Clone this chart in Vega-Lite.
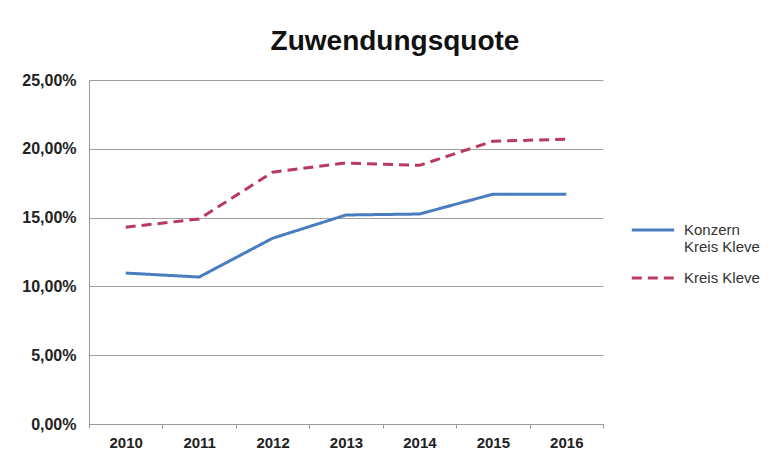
{
  "$schema": "https://vega.github.io/schema/vega-lite/v6.json",
  "autosize": {"type": "none"},
  "width": 514,
  "height": 344,
  "padding": {"left": 89, "top": 80, "right": 173, "bottom": 33},
  "background": "white",
  "title": {
    "text": "Zuwendungsquote",
    "font": "Liberation Sans",
    "fontSize": 28,
    "fontWeight": "bold",
    "color": "#111111",
    "anchor": "middle",
    "dx": 49,
    "offset": 16
  },
  "data": {
    "values": [
      {"Jahr": "2010", "Reihe": "Konzern Kreis Kleve", "Quote": 0.1097},
      {"Jahr": "2011", "Reihe": "Konzern Kreis Kleve", "Quote": 0.1068},
      {"Jahr": "2012", "Reihe": "Konzern Kreis Kleve", "Quote": 0.135},
      {"Jahr": "2013", "Reihe": "Konzern Kreis Kleve", "Quote": 0.1519},
      {"Jahr": "2014", "Reihe": "Konzern Kreis Kleve", "Quote": 0.1526},
      {"Jahr": "2015", "Reihe": "Konzern Kreis Kleve", "Quote": 0.167},
      {"Jahr": "2016", "Reihe": "Konzern Kreis Kleve", "Quote": 0.167},
      {"Jahr": "2010", "Reihe": "Kreis Kleve", "Quote": 0.143},
      {"Jahr": "2011", "Reihe": "Kreis Kleve", "Quote": 0.149},
      {"Jahr": "2012", "Reihe": "Kreis Kleve", "Quote": 0.183},
      {"Jahr": "2013", "Reihe": "Kreis Kleve", "Quote": 0.1897},
      {"Jahr": "2014", "Reihe": "Kreis Kleve", "Quote": 0.188},
      {"Jahr": "2015", "Reihe": "Kreis Kleve", "Quote": 0.2055},
      {"Jahr": "2016", "Reihe": "Kreis Kleve", "Quote": 0.207}
    ]
  },
  "mark": {"type": "line", "strokeWidth": 3},
  "encoding": {
    "x": {
      "field": "Jahr",
      "type": "ordinal",
      "scale": {"type": "band", "paddingInner": 0, "paddingOuter": 0},
      "axis": {
        "title": null,
        "labelAngle": 0,
        "labelFont": "Liberation Sans",
        "labelFontSize": 15,
        "labelFontWeight": "bold",
        "labelColor": "#222222",
        "labelPadding": 7,
        "tickBand": "extent",
        "tickSize": 4,
        "tickColor": "#999999",
        "domainColor": "#999999",
        "grid": false
      }
    },
    "y": {
      "field": "Quote",
      "type": "quantitative",
      "scale": {"domain": [0, 0.25], "nice": false},
      "axis": {
        "title": null,
        "values": [0, 0.05, 0.1, 0.15, 0.2, 0.25],
        "labelExpr": "replace(format(datum.value, '.2%'), '.', ',')",
        "labelFont": "Liberation Sans",
        "labelFontSize": 16,
        "labelFontWeight": "bold",
        "labelColor": "#222222",
        "labelPadding": 13,
        "ticks": false,
        "domainColor": "#999999",
        "gridColor": "#A0A0A0",
        "gridWidth": 1
      }
    },
    "color": {
      "field": "Reihe",
      "type": "nominal",
      "scale": {"domain": ["Konzern Kreis Kleve", "Kreis Kleve"], "range": ["#4A7CC0", "#B83A5C"]},
      "legend": {
        "title": null,
        "orient": "none",
        "legendX": 541,
        "legendY": 127,
        "symbolType": "stroke",
        "symbolSize": 1800,
        "symbolStrokeWidth": 3,
        "labelFont": "Liberation Sans",
        "labelFontSize": 15,
        "labelColor": "#333333",
        "labelOffset": 8,
        "rowPadding": -2,
        "labelExpr": "datum.label == 'Konzern Kreis Kleve' ? ['Konzern', 'Kreis Kleve'] : datum.label"
      }
    },
    "strokeDash": {
      "field": "Reihe",
      "type": "nominal",
      "scale": {"domain": ["Konzern Kreis Kleve", "Kreis Kleve"], "range": [[1, 0], [10, 6]]},
      "legend": {
        "title": null,
        "orient": "none",
        "legendX": 541,
        "legendY": 127,
        "symbolType": "stroke",
        "symbolSize": 1800,
        "symbolStrokeWidth": 3,
        "labelFont": "Liberation Sans",
        "labelFontSize": 15,
        "labelColor": "#333333",
        "labelOffset": 8,
        "rowPadding": -2,
        "labelExpr": "datum.label == 'Konzern Kreis Kleve' ? ['Konzern', 'Kreis Kleve'] : datum.label"
      }
    }
  },
  "config": {
    "view": {"stroke": null},
    "font": "Liberation Sans"
  }
}
